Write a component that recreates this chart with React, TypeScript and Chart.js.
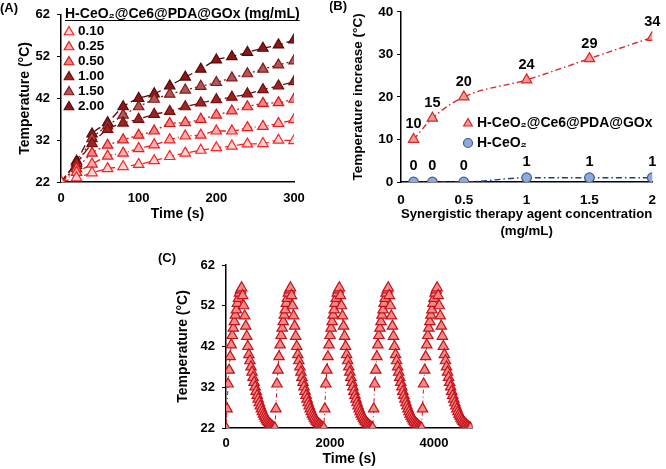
import React, { useEffect, useRef } from 'react';
import { Chart, registerables } from 'chart.js';

Chart.register(...registerables);

const FONT = "'Liberation Sans', Arial, Helvetica, sans-serif";
Chart.defaults.font.family = FONT;
Chart.defaults.font.weight = 'bold' as any;
Chart.defaults.color = '#000';

// ---------------- Panel A data ----------------
const timeA = [0, 20, 40, 60, 80, 100, 120, 140, 160, 180, 200, 220, 240, 260, 280, 300];
const concA = ['0.10', '0.25', '0.50', '1.00', '1.50', '2.00'];
const legendTitleA = 'H-CeO₂@Ce6@PDA@GOx (mg/mL)';
const tempA010 = [22, 23, 24.2, 25.2, 25.7, 26.2, 27.1, 28.1, 28.9, 29.6, 30.2, 30.6, 31.1, 31.2, 32, 31.9];
const tempA025 = [22, 24.3, 26.3, 28.2, 28.9, 30, 30.9, 32.1, 33, 33.2, 34.2, 34.2, 35, 35.3, 36, 36.9];
const tempA050 = [22, 25.2, 28.9, 30.8, 32.1, 33.2, 34.2, 36, 36.2, 37, 38, 39, 40, 40.8, 41, 41.8];
const tempA100 = [22, 26.5, 31.2, 34.6, 36.1, 37, 38.2, 38.9, 40, 40.9, 41.7, 42.3, 43.1, 44.1, 45, 46];
const tempA150 = [22, 26, 32.4, 35.4, 38, 40, 41.8, 43, 44, 44.9, 45.8, 46.9, 47.9, 49, 50, 51];
const tempA200 = [22, 27, 33.5, 36.2, 40, 42, 43.1, 45, 47.1, 49, 51.2, 52, 53, 54, 54.8, 56];
const seriesA = [tempA010, tempA025, tempA050, tempA100, tempA150, tempA200];

// ---------------- Panel B data ----------------
const concB = [0.1, 0.25, 0.5, 1, 1.5, 2];
const riseComposite = [10, 15, 20, 24, 29, 34];
const riseCeO2 = [0, 0, 0, 1, 1, 1];
const legendB = ['H-CeO₂@Ce6@PDA@GOx', 'H-CeO₂'];

// ---------------- Panel C data ----------------
const cycleStarts = [0, 940, 1880, 2820, 3760];
const heatTimes = [0, 20, 40, 60, 80, 100, 120, 140, 160, 180, 200, 220, 240, 260, 280, 300];
const heatTemps = [22, 26.7, 32.8, 36.2, 39.5, 42.4, 44.7, 46.5, 48.1, 49.7, 51, 52.6, 53.8, 55.1, 55.9, 56.4];
const coolTimes = [320, 340, 360, 380, 400, 420, 440, 460, 480, 500, 520, 540, 560, 580, 600, 620,
  640, 660, 680, 700, 720, 740, 760, 780, 800, 820, 840, 860, 880, 900, 920];
const coolTemps = [54.5, 52, 49.5, 47, 44.5, 42, 40, 38.5, 37, 35.7, 34.4, 33.2, 32.1, 31, 30, 29.1,
  28.2, 27.4, 26.7, 26, 25.4, 24.9, 24.4, 24, 23.6, 23.3, 23, 22.8, 22.5, 22.3, 22.1];
const endTime = 4700;
const endTemp = 22;
const tickValuesC = [0, 2000, 4000];

// ---------------- styles ----------------
const fillA = ['#fdd6d6', '#f8aeae', '#f28686', '#9e2424', '#b45656', '#8a1a1a'];
const borderA = ['#ff2020', '#ec1c1c', '#d81616', '#760c0c', '#821818', '#580808'];
const dashA = [[8, 4], [6, 3, 1, 3], [2, 3], [8, 4], [2, 3], [8, 4]];

function tri(ctx: any, x: number, y: number, r: number, fill: string, stroke: string) {
  ctx.beginPath();
  ctx.moveTo(x, y - r);
  ctx.lineTo(x + r * 0.866, y + r * 0.5);
  ctx.lineTo(x - r * 0.866, y + r * 0.5);
  ctx.closePath();
  ctx.fillStyle = fill;
  ctx.fill();
  ctx.lineWidth = 1.2;
  ctx.strokeStyle = stroke;
  ctx.stroke();
}

const fmt = (v: any) => String(Number(Number(v).toFixed(2)));

function xAxis(o: any) {
  return {
    type: 'linear',
    min: o.min,
    max: o.max,
    ticks: {
      stepSize: o.step, padding: o.tickPad, autoSkip: false, maxRotation: 0, callback: fmt,
      font: { size: o.tickSize, weight: 'bold', family: FONT }, color: '#000',
    },
    grid: { display: false, drawTicks: false, tickLength: 0 },
    border: { display: true, color: '#000', width: 1.5 },
    title: {
      display: true, text: o.title, color: '#000',
      font: { size: o.titleSize, weight: 'bold', family: FONT, lineHeight: o.lineHeight || 1.2 },
      padding: { top: 0, bottom: o.titlePad },
    },
    afterFit: (s: any) => { s.height = o.height; },
    afterBuildTicks: o.tickValues ? (s: any) => { s.ticks = o.tickValues.map((v: number) => ({ value: v })); } : undefined,
  };
}

function yAxis(o: any) {
  return {
    type: 'linear',
    min: o.min,
    max: o.max,
    ticks: {
      stepSize: o.step, padding: o.tickPad, autoSkip: false, callback: fmt,
      font: { size: o.tickSize, weight: 'bold', family: FONT }, color: '#000',
    },
    grid: { display: true, drawOnChartArea: false, drawTicks: true, tickLength: 4, color: '#000', lineWidth: 1 },
    border: { display: true, color: '#000', width: 1.5 },
    title: {
      display: true, text: o.title, color: '#000',
      font: { size: o.titleSize, weight: 'bold', family: FONT },
      padding: { top: o.titlePad, bottom: 0 },
    },
    afterFit: (s: any) => { s.width = o.width; },
  };
}

function configA() {
  const overlay = {
    id: 'overlayA',
    afterDraw(chart: any) {
      const ctx = chart.ctx;
      ctx.save();
      ctx.textBaseline = 'middle';
      ctx.textAlign = 'left';
      ctx.fillStyle = '#000';
      ctx.font = `bold 13px ${FONT}`;
      ctx.fillText('(A)', 0, 8);
      ctx.font = `bold 14px ${FONT}`;
      ctx.fillText(legendTitleA, 65, 14);
      const w = ctx.measureText(legendTitleA).width;
      ctx.strokeStyle = '#000';
      ctx.lineWidth = 1.2;
      ctx.beginPath();
      ctx.moveTo(65, 20.5);
      ctx.lineTo(65 + w, 20.5);
      ctx.stroke();
      ctx.font = `bold 13.5px ${FONT}`;
      concA.forEach((lab, i) => {
        const y = 31.5 + i * 15;
        tri(ctx, 69, y + 0.5, 5.5, fillA[i], borderA[i]);
        ctx.fillStyle = '#000';
        ctx.fillText(lab, 78, y);
      });
      ctx.restore();
    },
  };
  return {
    type: 'scatter',
    data: {
      datasets: seriesA.map((d, i) => ({
        label: concA[i],
        data: timeA.map((t, j) => ({ x: t, y: d[j] })),
        showLine: true,
        borderColor: borderA[i],
        borderWidth: 1.3,
        borderDash: dashA[i],
        tension: 0.4,
        cubicInterpolationMode: 'monotone',
        pointStyle: 'triangle',
        pointRadius: 6,
        pointBackgroundColor: fillA[i],
        pointBorderColor: borderA[i],
        pointBorderWidth: 1.2,
      })),
    },
    options: {
      responsive: false,
      animation: false,
      layout: { padding: { top: 7, right: 26, left: 0, bottom: 0 } },
      plugins: { legend: { display: false }, tooltip: { enabled: false } },
      scales: {
        x: xAxis({ min: 0, max: 300, step: 100, tickPad: 8.5, tickSize: 13, title: 'Time (s)', titleSize: 14, titlePad: 5.5, height: 46 }),
        y: yAxis({ min: 22, max: 62, step: 10, tickPad: 7, tickSize: 13, title: 'Temperature (°C)', titleSize: 14, titlePad: 16.6, width: 61 }),
      },
    },
    plugins: [overlay],
  };
}

function configB() {
  const overlay = {
    id: 'overlayB',
    afterDraw(chart: any) {
      const ctx = chart.ctx;
      ctx.save();
      ctx.textBaseline = 'middle';
      ctx.textAlign = 'left';
      ctx.fillStyle = '#000';
      ctx.font = `bold 13px ${FONT}`;
      ctx.fillText('(B)', -1, 6);
      // data labels
      ctx.textAlign = 'center';
      ctx.font = `bold 14.5px ${FONT}`;
      const sets = [riseComposite, riseCeO2];
      sets.forEach((vals, di) => {
        const meta = chart.getDatasetMeta(di);
        vals.forEach((v, j) => {
          const el = meta.data[j];
          ctx.fillText(String(Math.round(v)), el.x, el.y - (di === 0 ? 15 : 16));
        });
      });
      // legend
      ctx.textAlign = 'left';
      ctx.font = `bold 14px ${FONT}`;
      tri(ctx, 138, 123.5, 5, '#f19a95', '#d8262a');
      ctx.fillStyle = '#000';
      ctx.fillText(legendB[0], 147, 123);
      ctx.beginPath();
      ctx.arc(138, 143, 4.5, 0, Math.PI * 2);
      ctx.fillStyle = '#8eaadb';
      ctx.fill();
      ctx.lineWidth = 1.2;
      ctx.strokeStyle = '#3c5a9e';
      ctx.stroke();
      ctx.fillStyle = '#000';
      ctx.fillText(legendB[1], 147, 143);
      ctx.restore();
    },
  };
  return {
    type: 'scatter',
    data: {
      datasets: [
        {
          label: legendB[0],
          data: concB.map((c, i) => ({ x: c, y: riseComposite[i] })),
          showLine: true,
          borderColor: '#d8262a',
          borderWidth: 1.4,
          borderDash: [6, 3, 1.5, 3],
          tension: 0.4,
          cubicInterpolationMode: 'monotone',
          pointStyle: 'triangle',
          pointRadius: 6,
          pointBackgroundColor: '#f19a95',
          pointBorderColor: '#d8262a',
          pointBorderWidth: 1.2,
        },
        {
          label: legendB[1],
          data: concB.map((c, i) => ({ x: c, y: riseCeO2[i] })),
          showLine: true,
          borderColor: '#1f3c8c',
          borderWidth: 1.4,
          borderDash: [6, 3, 1.5, 3],
          tension: 0.4,
          cubicInterpolationMode: 'monotone',
          pointStyle: 'circle',
          pointRadius: 4.8,
          pointBackgroundColor: '#8eaadb',
          pointBorderColor: '#3c5a9e',
          pointBorderWidth: 1.2,
        },
      ],
    },
    options: {
      responsive: false,
      animation: false,
      layout: { padding: { top: 7, right: 13, left: 0, bottom: 0 } },
      plugins: { legend: { display: false }, tooltip: { enabled: false } },
      scales: {
        x: xAxis({
          min: 0, max: 2, step: 0.5, tickPad: 10, tickSize: 13.5,
          title: ['Synergistic therapy agent concentration', '(mg/mL)'], titleSize: 13.3, lineHeight: 1.3,
          titlePad: 0, height: 58,
        }),
        y: yAxis({ min: 0, max: 40, step: 10, tickPad: 3.7, tickSize: 13.5, title: 'Temperature increase (°C)', titleSize: 13.5, titlePad: 19.9, width: 71 }),
      },
    },
    plugins: [overlay],
  };
}

function configC() {
  const pts: any[] = [];
  cycleStarts.forEach((s) => {
    heatTimes.forEach((t, i) => pts.push({ x: s + t, y: heatTemps[i] }));
    coolTimes.forEach((t, i) => pts.push({ x: s + t, y: coolTemps[i] }));
  });
  pts.push({ x: endTime, y: endTemp });
  const overlay = {
    id: 'overlayC',
    afterDraw(chart: any) {
      const ctx = chart.ctx;
      ctx.save();
      ctx.textBaseline = 'middle';
      ctx.textAlign = 'left';
      ctx.fillStyle = '#000';
      ctx.font = `bold 13px ${FONT}`;
      ctx.fillText('(C)', 8, 18);
      ctx.restore();
    },
  };
  return {
    type: 'scatter',
    data: {
      datasets: [
        {
          label: 'cycles',
          data: pts,
          showLine: true,
          borderColor: '#c8101a',
          borderWidth: 1,
          borderDash: [4, 3, 1, 3],
          pointStyle: 'triangle',
          pointRadius: 6,
          pointBackgroundColor: '#ee8b87',
          pointBorderColor: '#c8101a',
          pointBorderWidth: 1.2,
        },
      ],
    },
    options: {
      responsive: false,
      animation: false,
      layout: { padding: { top: 25, right: 17.5, left: 0, bottom: 0 } },
      plugins: { legend: { display: false }, tooltip: { enabled: false } },
      scales: {
        x: xAxis({ min: 0, max: 4740, step: 2000, tickValues: tickValuesC, tickPad: 7.2, tickSize: 13, title: 'Time (s)', titleSize: 14, titlePad: 1.3, height: 41 }),
        y: yAxis({ min: 22, max: 62, step: 10, tickPad: 7, tickSize: 13, title: 'Temperature (°C)', titleSize: 14, titlePad: 24.6, width: 76 }),
      },
    },
    plugins: [overlay],
  };
}

function Panel({ left, top, width, height, build }: any) {
  const ref = useRef<HTMLCanvasElement>(null);
  useEffect(() => {
    const chart = new Chart(ref.current as any, build() as any);
    return () => chart.destroy();
  }, []);
  return (
    <canvas
      ref={ref}
      width={width}
      height={height}
      style={{ position: 'absolute', left, top, width, height, display: 'block' }}
    />
  );
}

export default function App() {
  return (
    <div style={{ position: 'absolute', left: 0, top: 0, width: 666, height: 469, background: '#fff', overflow: 'hidden' }}>
      <Panel left={0} top={0} width={320} height={228} build={configA} />
      <Panel left={330} top={0} width={336} height={240} build={configB} />
      <Panel left={150} top={240} width={340} height={229} build={configC} />
    </div>
  );
}
